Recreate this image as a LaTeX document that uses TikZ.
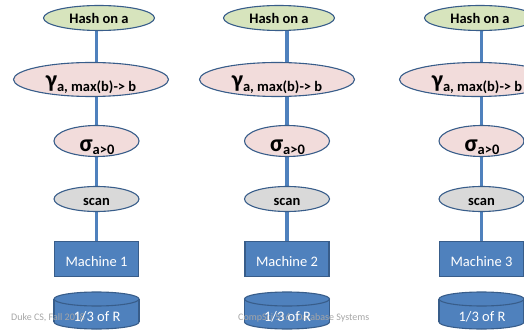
\documentclass[tikz,border=0pt]{standalone}
\usepackage{fontspec}
\setmainfont{Carlito}
\usetikzlibrary{shapes.geometric,backgrounds}

\definecolor{spine}{HTML}{4F81BD}
\definecolor{edge}{HTML}{385D8A}
\definecolor{hashfill}{HTML}{D7E4BD}
\definecolor{opfill}{HTML}{F2DCDB}
\definecolor{scanfill}{HTML}{D9D9D9}
\definecolor{boxfill}{HTML}{4F81BD}
\definecolor{footgray}{HTML}{A6A6A6}

\tikzset{
  op/.style={ellipse, draw=edge, line width=1.1pt, inner sep=0pt},
  hashop/.style={op, fill=hashfill, minimum width=111pt, minimum height=25pt},
  aggop/.style={op, fill=opfill, minimum width=155pt, minimum height=34pt},
  selop/.style={op, fill=opfill, minimum width=85pt, minimum height=31pt},
  scanop/.style={op, fill=scanfill, minimum width=85pt, minimum height=25pt},
  machine/.style={rectangle, draw=edge, fill=boxfill, line width=1.1pt,
    minimum width=84pt, minimum height=35pt, inner sep=0pt},
  lbl/.style={anchor=base, inner sep=0pt, font=\fontsize{14.5}{16}\selectfont\bfseries},
  wlbl/.style={anchor=base, inner sep=0pt, text=white, font=\fontsize{14.5}{16}\selectfont},
  foot/.style={anchor=base west, inner sep=0pt, text=footgray, font=\fontsize{10}{11}\selectfont},
  spineline/.style={draw=spine, line width=3.2pt},
  disk/.style={draw=edge, fill=boxfill, line width=1.1pt},
}

\begin{document}
\begin{tikzpicture}[x=1pt,y=-1pt]
\useasboundingbox (0,0) rectangle (524,331);

% one operator pipeline per machine
\foreach \i/\hx/\gx/\cx in {1/99/91/96.5, 2/279/277/287, 3/480/477/481.5}{
  \node[hashop] (hash\i) at (\hx,18) {};
  \node[aggop]  (agg\i)  at (\gx,79.5) {};
  \node[selop]  (sel\i)  at (\cx,141) {};
  \node[scanop] (scan\i) at (\cx,199) {};
  \node[machine] (mach\i) at (\cx,259) {};

  \node[lbl] (hashtxt\i) at (\hx,24) {Hash on a};
  \node[lbl] (aggtxt\i) at (\gx,88)
    {{\fontsize{24}{24}\selectfont γ}\raisebox{-3.5pt}{a, max(b)-> b}};
  \node[lbl] (seltxt\i) at (\cx+0.5,152)
    {{\fontsize{24}{24}\selectfont σ}\raisebox{-3pt}{a>0}};
  \node[lbl] (scantxt\i) at (\cx,205) {scan};
  \node[wlbl] (machtxt\i) at (\cx,266) {Machine \i};

  % disk holding one partition of R
  \path[disk] (\cx,322) ellipse[x radius=42.5, y radius=7];
  \fill[boxfill] (\cx-42.5,299) rectangle (\cx+42.5,322);
  \draw[edge, line width=1.1pt] (\cx-42.5,299) -- (\cx-42.5,322)
                               (\cx+42.5,299) -- (\cx+42.5,322);
  \path[disk] (\cx,299) ellipse[x radius=42.5, y radius=7];
}

% vertical data-flow lines behind the operators
\begin{scope}[on background layer]
  \foreach \i in {1,2,3}
    \draw[spineline] (mach\i.north |- hash\i.south) -- (mach\i.north);
\end{scope}

% slide footer
\node[foot] (footl) at (11,320) {Duke CS, Fall 2018};
\node[foot] (footc) at (238,320) {CompSci 516: Database Systems};

% partition labels
\foreach \i/\cx in {1/96.5, 2/287, 3/481.5}
  \node[wlbl] (disktxt\i) at (\cx+0.5,321) {1/3 of R};
\end{tikzpicture}
\end{document}
